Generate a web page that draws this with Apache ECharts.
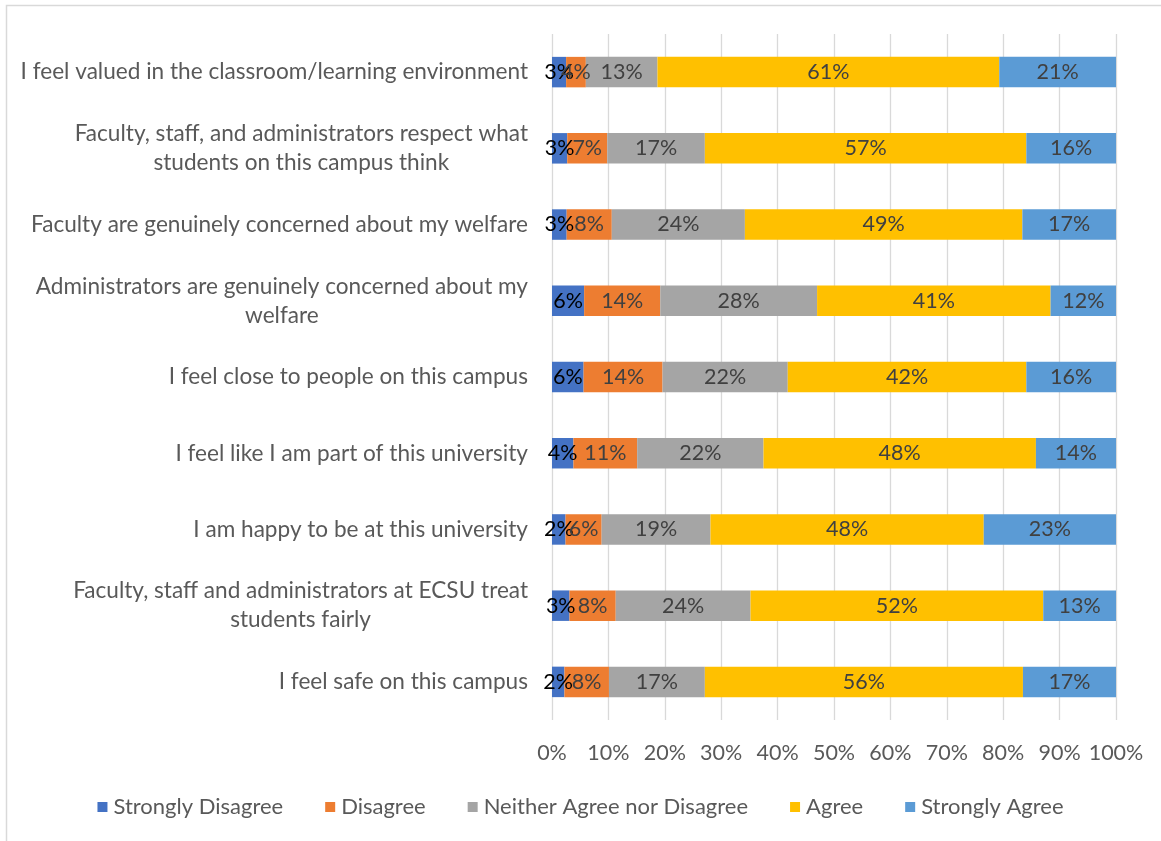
<!DOCTYPE html>
<html>
<head>
<meta charset="utf-8">
<script src="https://cdn.jsdelivr.net/npm/echarts@6/dist/echarts.min.js"></script>
<style>
  html, body { margin: 0; padding: 0; background: #fff; }
  #chart { width: 1161px; height: 841px; }
</style>
</head>
<body>
<div id="chart"></div>
<script>
// Survey statements, top to bottom
const categories = [
  'I feel valued in the classroom/learning environment',
  'Faculty, staff, and administrators respect what\nstudents on this campus think',
  'Faculty are genuinely concerned about my welfare',
  'Administrators are genuinely concerned about my\nwelfare',
  'I feel close to people on this campus',
  'I feel like I am part of this university',
  'I am happy to be at this university',
  'Faculty, staff and administrators at ECSU treat\nstudents fairly',
  'I feel safe on this campus'
];

const seriesNames = ['Strongly Disagree', 'Disagree', 'Neither Agree nor Disagree', 'Agree', 'Strongly Agree'];

// Response shares (%) per statement, same order as categories
const stronglyDisagree = [2.5, 2.7, 2.6, 5.7, 5.6, 3.8, 2.4, 3.1, 2.2];
const disagree         = [3.5, 7.1, 8.0, 13.5, 14.0, 11.3, 6.4, 8.2, 7.9];
const neither          = [12.7, 17.3, 23.6, 27.8, 22.2, 22.4, 19.3, 23.9, 17.0];
const agree            = [60.6, 57.0, 49.2, 41.4, 42.3, 48.3, 48.45, 51.9, 56.4];
const stronglyAgree    = [20.7, 15.9, 16.6, 11.6, 15.9, 14.2, 23.45, 12.9, 16.5];

const xTicks = [0, 10, 20, 30, 40, 50, 60, 70, 80, 90, 100];

const colors = ['#4472C4', '#ED7D31', '#A5A5A5', '#FFC000', '#5B9BD5'];
const seriesData = [stronglyDisagree, disagree, neither, agree, stronglyAgree];

const FONT = 'Lato';

const chart = echarts.init(document.getElementById('chart'), null, { renderer: 'canvas' });

chart.setOption({
  backgroundColor: '#ffffff',
  animation: false,
  color: colors,
  textStyle: { fontFamily: FONT },
  graphic: [{
    type: 'rect',
    shape: { x: 6.5, y: 5.5, width: 1300, height: 1000 },
    style: { fill: 'none', stroke: '#d9d9d9', lineWidth: 1.5 },
    silent: true
  }],
  grid: { left: 552, right: 45, top: 34, bottom: 121, containLabel: false },
  legend: {
    data: seriesNames,
    left: 'center',
    top: 791,
    itemWidth: 10,
    itemHeight: 10,
    itemGap: 42,
    icon: 'rect',
    textStyle: { fontFamily: FONT, fontSize: 22, color: '#595959', padding: [0, 0, 0, 1] }
  },
  xAxis: {
    type: 'value',
    min: xTicks[0],
    max: xTicks[xTicks.length - 1],
    interval: 10,
    axisLine: { show: false },
    axisTick: { show: false },
    axisLabel: {
      formatter: v => v + '%',
      fontFamily: FONT,
      fontSize: 21.5,
      color: '#595959',
      margin: 22
    },
    splitLine: { show: true, lineStyle: { color: '#d9d9d9', width: 1.3 } }
  },
  yAxis: {
    type: 'category',
    inverse: true,
    data: categories,
    axisLine: { show: false },
    axisTick: { show: false },
    axisLabel: {
      margin: 24,
      formatter: v => v.split('\n').map(s => '{c|' + s + '}').join('\n'),
      rich: {
        c: { fontFamily: FONT, fontSize: 22.6, color: '#595959', align: 'center', lineHeight: 29 }
      }
    }
  },
  series: seriesNames.map((name, i) => ({
    name,
    type: 'bar',
    stack: 'total',
    barWidth: '40%',
    data: seriesData[i],
    itemStyle: { color: colors[i] },
    label: {
      show: true,
      position: 'inside',
      formatter: p => Math.round(p.value) + '%',
      fontFamily: FONT,
      fontSize: 21.5,
      color: i === 0 ? '#000000' : '#404040'
    }
  }))
});
</script>
</body>
</html>
